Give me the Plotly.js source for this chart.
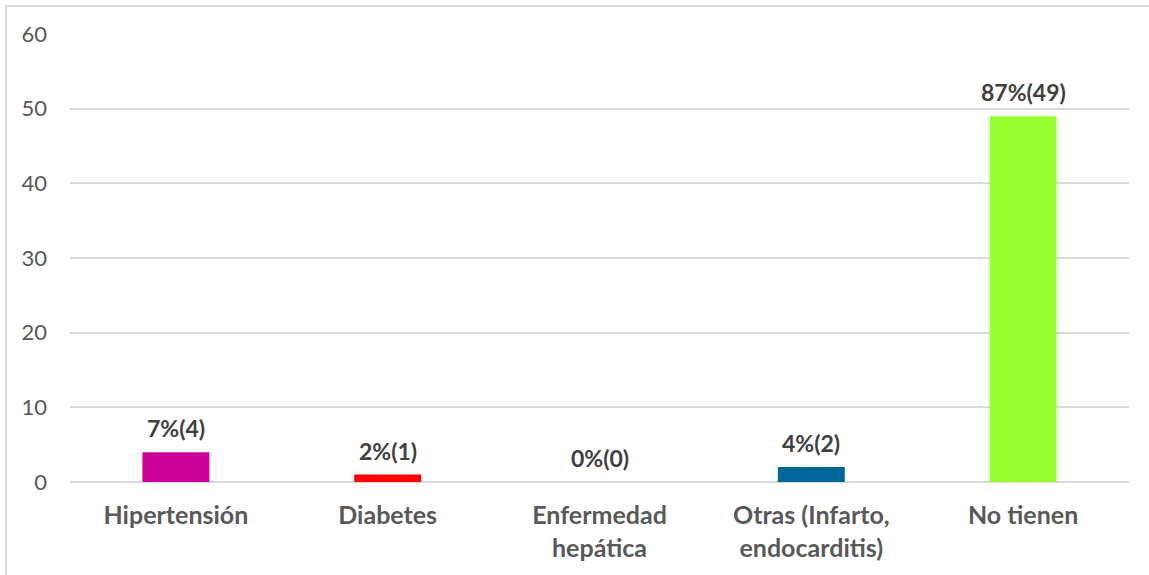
<!DOCTYPE html>
<html>
<head>
<meta charset="utf-8">
<script src="https://cdn.plot.ly/plotly-3.0.1.min.js"></script>
<style>
html,body{margin:0;padding:0;background:#fff;}
#wrap{position:relative;width:1149px;height:575px;}
#chart{position:absolute;left:0;top:0;width:1149px;height:575px;}
#frame{position:absolute;left:5px;top:5px;width:1160px;height:600px;border:2px solid #d9d9d9;pointer-events:none;}
</style>
</head>
<body>
<div id="wrap"><div id="chart"></div><div id="frame"></div></div>
<script>
const categories = ["Hipertensión", "Diabetes", "Enfermedad<br>hepática", "Otras (Infarto,<br>endocarditis)", "No tienen"];
const values = [4, 1, 0, 2, 49];
const labels = ["7%(4)", "2%(1)", "0%(0)", "4%(2)", "87%(49)"];
const colors = ["#CC0099", "#FF0000", "#0070C0", "#006699", "#99FF33"];
const yTicks = [0, 10, 20, 30, 40, 50, 60];

const trace = {
  type: "bar",
  x: categories,
  y: values,
  marker: {color: colors},
  width: 0.316,
  hoverinfo: "none"
};

const annotations = categories.map((c, i) => ({
  x: c, y: values[i], xref: "x", yref: "y",
  text: "<b>" + labels[i] + "</b>",
  showarrow: false, yanchor: "bottom", yshift: 8,
  font: {family: "Lato, 'Open Sans', sans-serif", size: 23, color: "#404040"}
}));

const layout = {
  width: 1149, height: 575,
  margin: {l: 70, r: 20, t: 34, b: 93},
  paper_bgcolor: "rgba(0,0,0,0)",
  plot_bgcolor: "#fff",
  showlegend: false,
  xaxis: {
    type: "category",
    tickfont: {family: "Lato, 'Open Sans', sans-serif", size: 25, color: "#595959", weight: "bold"},
    showgrid: false, zeroline: false, showline: false, ticks: "",
    ticklabelstandoff: 16
  },
  yaxis: {
    range: [0, 60],
    tickvals: yTicks,
    ticktext: yTicks.map(String),
    tickfont: {family: "Lato, 'Open Sans', sans-serif", size: 22, color: "#595959"},
    showgrid: true, gridcolor: "#d9d9d9", gridwidth: 2,
    zeroline: true, zerolinecolor: "#d9d9d9", zerolinewidth: 2,
    showline: false, ticks: "", ticklabelstandoff: 22
  },
  annotations: annotations
};

Plotly.newPlot("chart", [trace], layout, {staticPlot: true, displayModeBar: false});
</script>
</body>
</html>
